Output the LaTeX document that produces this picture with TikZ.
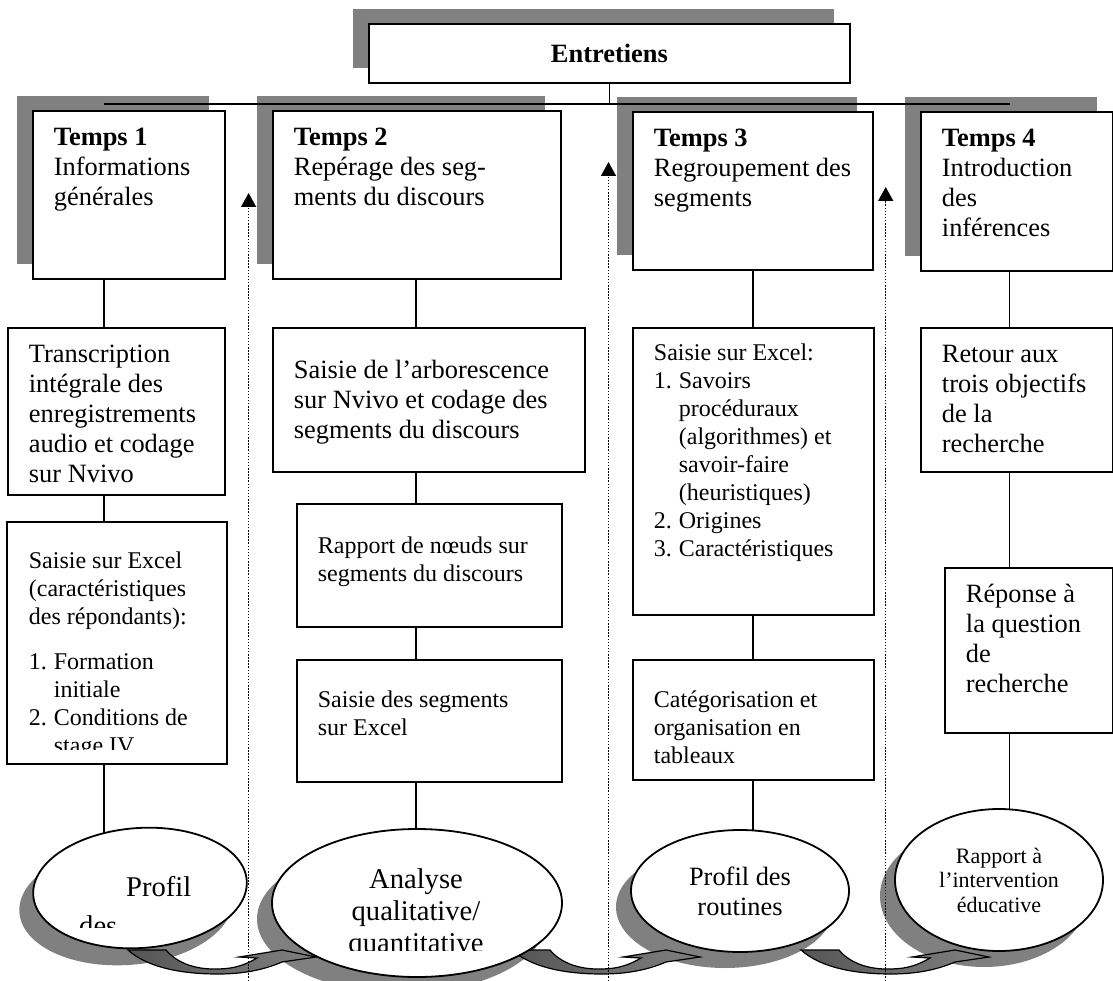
\documentclass[tikz,border=0pt]{standalone}
\usepackage{fontspec}
\setmainfont{Liberation Serif}
\usetikzlibrary{shapes.geometric,shadows,arrows.meta}

\definecolor{shadowgray}{RGB}{128,128,128}
\definecolor{bandgray}{RGB}{85,85,85}

\newcommand{\fbig}{\fontsize{26.4}{30}\selectfont}
\newcommand{\fsmall}{\fontsize{24}{28}\selectfont}
\newcommand{\foval}{\fontsize{28.6}{32}\selectfont}
\newcommand{\fnote}{\fontsize{22}{24.5}\selectfont}
% width, height, first baseline, text
\newcommand{\cell}[4]{\begin{minipage}[t][#2pt][t]{#1pt}\raggedright\rule{0pt}{#3pt}#4\end{minipage}}
\newcommand{\lnum}[1]{\makebox[25pt][l]{#1}}
\newcommand{\lind}{\hspace*{25pt}}

\tikzset{
	cellbox/.style={draw, line width=1.8pt, fill=white, inner xsep=21pt, inner ysep=0pt, anchor=north west},
	shadowbox/.style={cellbox, drop shadow={shadow xshift=-16pt, shadow yshift=15pt, fill=shadowgray, opacity=1}},
	bubble/.style={ellipse, draw, line width=1.8pt, fill=white, inner sep=0pt, align=center},
	connector/.style={line width=1.7pt},
	feedback/.style={line width=1.5pt, dash pattern=on 1.5pt off 1.6pt, -{Triangle[length=14pt,width=15pt]}},
	curl/.style={line width=1.2pt, left color=bandgray, right color=shadowgray},
}

\begin{document}
\begin{tikzpicture}[x=1pt,y=-1pt]
	\useasboundingbox (0,0) rectangle (1113,981);
	% columns
	\coordinate (col1) at (104,0);
	\coordinate (col2) at (416,0);
	\coordinate (col3) at (753,0);
	\coordinate (col4) at (1009.5,0);
	\coordinate (e1c) at (140,888);
	\coordinate (e2c) at (417,903);
	\coordinate (e3c) at (740,891);
	\coordinate (e4c) at (999,880);

	\node[shadowbox, inner sep=0pt, minimum width=481pt, minimum height=59pt, font=\fbig\bfseries] (ent) at (368,23) {Entretiens};

	\node[shadowbox, font=\fbig] (t1) at (32,110) {\cell{150}{168}{35}{\textbf{Temps 1}\\Informations\\générales}};
	\node[shadowbox, font=\fbig] (t2) at (272,110) {\cell{246}{168}{35}{\textbf{Temps 2}\\Repérage des seg-\\ments du discours}};
	\node[shadowbox, font=\fbig] (t3) at (632,111) {\cell{198}{158}{35}{\textbf{Temps 3}\\Regroupement des\\segments}};
	\node[shadowbox, font=\fbig] (t4) at (920,111) {\cell{150}{159}{35}{\textbf{Temps 4}\\Introduction\\des\\inférences}};

	\coordinate (hl) at (104,104);
	\coordinate (hr) at (1010,104);
	\draw[connector] (hl) -- (hr);
	\draw[connector] (ent.south) -- (ent.south |- hl);

	% Temps 1
	\node[cellbox, font=\fbig] (tr1) at (7,327) {\cell{175}{167}{35}{Transcription\\intégrale des\\enregistrements\\audio et codage\\sur Nvivo}};
	\begin{scope}
		\clip (0,0) rectangle (1113,749);
		\node[cellbox, draw=none, font=\fsmall] (s1) at (7,522) {\cell{176}{240}{46}{Saisie sur Excel\\(caractéristiques\\des répondants):\\[17pt]\lnum{1.}Formation\\\lind initiale\\\lnum{2.}Conditions de\\\lind stage IV}};
	\end{scope}
	\draw[line width=1.8pt] (s1.north west) rectangle (s1.south east);

	% Temps 2
	\node[cellbox, font=\fbig] (a2) at (272,327) {\cell{270}{144}{51}{Saisie de l’arborescence\\sur Nvivo et codage des\\segments du discours}};
	\node[cellbox, font=\fsmall] (r2) at (296,503) {\cell{223}{123}{50}{Rapport de nœuds sur\\segments du discours}};
	\node[cellbox, font=\fsmall] (ss2) at (296,659) {\cell{223}{122}{48}{Saisie des segments\\sur Excel}};

	% Temps 3
	\node[cellbox, font=\fsmall] (s3) at (632,327) {\cell{199}{287}{33}{Saisie sur Excel:\\\lnum{1.}Savoirs\\\lind procéduraux\\\lind (algorithmes) et\\\lind savoir-faire\\\lind (heuristiques)\\\lnum{2.}Origines\\\lnum{3.}Caractéristiques}};
	\node[cellbox, font=\fsmall] (cat3) at (632,659) {\cell{199}{120}{48}{Catégorisation et\\organisation en\\tableaux}};

	% Temps 4
	\node[cellbox, font=\fbig] (re4) at (920,327) {\cell{150}{144}{35}{Retour aux\\trois objectifs\\de la\\recherche}};
	\node[cellbox, font=\fbig] (rp4) at (944,567) {\cell{126}{165}{35}{Réponse à\\la question\\de\\recherche}};

	\draw[connector] (t1.south -| col1) -- (tr1.north -| col1);
	\draw[connector] (tr1.south -| col1) -- (s1.north -| col1);
	\draw[connector] (s1.south -| col1) -- (col1 |- e1c);
	\draw[connector] (t2.south -| col2) -- (a2.north -| col2);
	\draw[connector] (a2.south -| col2) -- (r2.north -| col2);
	\draw[connector] (r2.south -| col2) -- (ss2.north -| col2);
	\draw[connector] (ss2.south -| col2) -- (col2 |- e2c);
	\draw[connector] (t3.south -| col3) -- (s3.north -| col3);
	\draw[connector] (s3.south -| col3) -- (cat3.north -| col3);
	\draw[connector] (cat3.south -| col3) -- (col3 |- e3c);
	\draw[connector] (t4.south -| col4) -- (re4.north -| col4);
	\draw[connector] (re4.south -| col4) -- (rp4.north -| col4);
	\draw[connector] (rp4.south -| col4) -- (col4 |- e4c);

	% shadows of the ovals
	\fill[shadowgray, rotate around={4:([shift={(-15,16)}]e1c)}] ([shift={(-15,16)}]e1c) ellipse [x radius=107, y radius=60];
	\foreach \c/\rx/\ry in {e2c/145/74, e3c/109/61, e4c/104/71}
		\fill[shadowgray] ([shift={(-15,16)}]\c) ellipse [x radius=\rx, y radius=\ry];

	% curved arrows
	\foreach \a in {128,512,801}
		\draw[curl, shift={(\a,948)}] (0,2) .. controls (20,20) and (55,26) .. (90,26) .. controls (120,26) and (140,20) .. (154,14) -- (188,9) -- (154,2) -- (111,9) -- (129,10) .. controls (112,20) and (100,21) .. (86,21) .. controls (65,21) and (48,14) .. (38,2) -- cycle;

	% ovals
	\node[bubble, rotate=4, minimum width=214pt, minimum height=120pt] (e1) at (e1c) {};
	\node[bubble, minimum width=290pt, minimum height=148pt] (e2) at (e2c) {};
	\node[bubble, font=\fbig, minimum width=218pt, minimum height=122pt] (e3) at (e3c) {Profil des\\routines};
	\node[bubble, font=\fnote, minimum width=208pt, minimum height=142pt] (e4) at (e4c) {Rapport à\\l’intervention\\éducative};
	\begin{scope}
		\clip (0,0) rectangle (1113,927);
		\node[font=\foval, align=left, anchor=base west, inner sep=0pt] (e1txt) at (79,935) {\hspace*{47pt}Profil\\[7pt]des};
	\end{scope}
	\begin{scope}
		\clip (0,0) rectangle (1113,950);
		\node[font=\foval, align=center, anchor=base, inner sep=0pt] (e2txt) at (416,952) {Analyse\\qualitative/\\quantitative};
	\end{scope}

	% dotted arrows
	\coordinate (d1b) at (248.6,981);
	\coordinate (d1t) at (248.6,193);
	\coordinate (d2b) at (608.5,981);
	\coordinate (d2t) at (608.5,162);
	\coordinate (d3b) at (885.7,981);
	\coordinate (d3t) at (885.7,187);
	\draw[feedback] (d1b) -- (d1t);
	\draw[feedback] (d2b) -- (d2t);
	\draw[feedback] (d3b) -- (d3t);
\end{tikzpicture}
\end{document}
